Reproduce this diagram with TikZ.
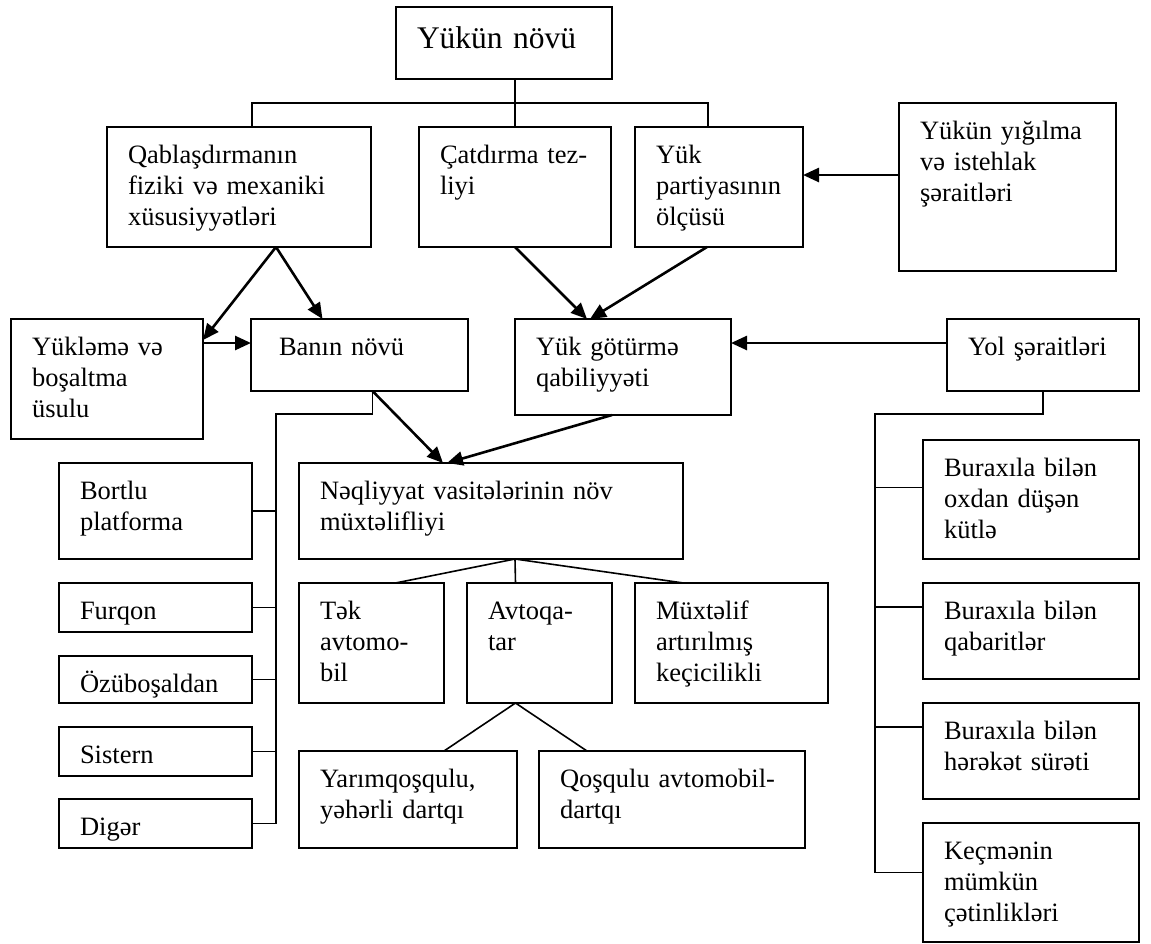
\documentclass[tikz,border=0pt]{standalone}
\usepackage{fontspec}
\setmainfont{Liberation Serif}
\usetikzlibrary{positioning, arrows.meta, calc}

\newcommand{\bodyfont}{\fontsize{26.5}{31}\selectfont}
\newcommand{\bigfont}{\fontsize{31.5}{37}\selectfont}

\begin{document}
\begin{tikzpicture}[
    x=1pt, y=-1pt,
    font=\bodyfont,
    cell/.style 2 args={draw, line width=1.6pt, anchor=north west, align=left,
        inner xsep=21pt, inner ysep=0pt, outer sep=0pt,
        text width=#1pt-42pt, text height=36pt, text depth=#2pt-36pt},
    link/.style={line width=1.6pt},
    arrow/.style={-{Triangle[length=16pt, width=14pt]}, line width=2.6pt}
]
\useasboundingbox (0,0) rectangle (1151,943);

% top level
\node[cell={216}{72}, font=\bigfont, text height=41pt, text depth=31pt] (type) at (396,7) {Yükün növü};
\node[cell={264}{120}] (phys) at (107,127) {Qablaşdırmanın\\fiziki və mexaniki\\xüsusiyyətləri};
\node[cell={192}{120}] (spd) at (419,127) {Çatdırma tez-\\liyi};
\node[cell={168}{120}] (batch) at (635,127) {Yük\\partiyasının\\ölçüsü};
\node[cell={217}{168}] (cond) at (899,103) {Yükün yığılma\\və istehlak\\şəraitləri};

% second level
\node[cell={192}{120}] (load) at (11,319) {Yükləmə və\\boşaltma\\üsulu};
\node[cell={217}{72}] (body) at (251,319) {\hspace*{7pt}Banın növü};
\node[cell={216}{96}] (capa) at (515,319) {Yük götürmə\\qabiliyyəti};
\node[cell={192}{72}] (road) at (947,319) {Yol şəraitləri};

% body types
\node[cell={193}{96}] (plat) at (59,463) {Bortlu\\platforma};
\node[cell={193}{49}, below=24pt of plat] (van) {Furqon};
\node[cell={193}{47}, below=24pt of van] (tip) {Özüboşaldan};
\node[cell={193}{49}, below=24pt of tip] (tank) {Sistern};
\node[cell={193}{49}, below=23pt of tank] (other) {Digər};

% vehicles
\node[cell={384}{96}] (kind) at (299,463) {Nəqliyyat vasitələrinin növ\\müxtəlifliyi};
\node[cell={145}{120}] (single) at (299,583) {Tək\\avtomo-\\bil};
\node[cell={145}{120}] (train) at (467,583) {Avtoqa-\\tar};
\node[cell={193}{120}] (offroad) at (635,583) {Müxtəlif\\artırılmış\\keçicilikli};
\node[cell={218}{97}] (semi) at (299,751) {Yarımqoşqulu,\\yəhərli dartqı};
\node[cell={266}{97}] (trail) at (539,751) {Qoşqulu avtomobil-\\dartqı};

% road limits
\node[cell={216}{119}] (axle) at (923,440) {Buraxıla bilən\\oxdan düşən\\kütlə};
\node[cell={216}{96}, below=24pt of axle] (dims) {Buraxıla bilən\\qabaritlər};
\node[cell={216}{96}, below=24pt of dims] (speed) {Buraxıla bilən\\hərəkət sürəti};
\node[cell={216}{119}, below=24pt of speed] (pass) {Keçmənin\\mümkün\\çətinlikləri};

% tree lines
\draw[link] (type.south -| spd.north) -- (spd.north);
\draw[link] ([xshift=13pt]phys.north) -- ++(0,-24) -| ([xshift=-11pt]batch.north);
\draw[link] ([xshift=13pt]body.south) -- ++(0,23) -| ([xshift=24pt]other.east) -- (other.east);
\foreach \n in {plat, van, tip, tank}
    \draw[link] (\n.east) -- ++(24,0);
\draw[link] ([xshift=24pt]single.north) -- ([xshift=24pt]kind.south) -- ([xshift=-24pt]train.north);
\draw[link] ([xshift=24pt]kind.south) -- ([xshift=-48pt]offroad.north);
\draw[link] ([xshift=36pt]semi.north) -- ([xshift=-24pt]train.south) -- ([xshift=-85pt]trail.north);
\draw[link] (road.south) -- ++(0,23) -| ([xshift=-48pt, yshift=10pt]pass.west) -- ([yshift=10pt]pass.west);
\draw[link] ([yshift=12pt]axle.west) -- ++(-48,0);
\draw[link] ([yshift=24pt]dims.west) -- ++(-48,0);
\draw[link] ([yshift=24pt]speed.west) -- ++(-48,0);

% arrows
\draw[arrow] ([yshift=12pt]cond.west) -- ([yshift=12pt]cond.west -| batch.east);
\draw[arrow] ([xshift=37pt]phys.south) -- ([yshift=39pt]load.east);
\draw[arrow] ([xshift=37pt]phys.south) -- ([xshift=-37pt]body.north);
\draw[arrow] ([yshift=36pt]load.east) -- ([yshift=36pt]load.east -| body.west);
\draw[arrow] (spd.south) -- ([xshift=-36pt]capa.north);
\draw[arrow] ([xshift=-12pt]batch.south) -- ([xshift=-33pt]capa.north);
\draw[arrow] ([yshift=12pt]road.west) -- ([yshift=12pt]road.west -| capa.east);
\draw[arrow] ([xshift=13pt]body.south) -- ([xshift=-48pt]kind.north);
\draw[arrow] ([xshift=-11pt]capa.south) -- ([xshift=-44pt]kind.north);

\end{tikzpicture}
\end{document}
